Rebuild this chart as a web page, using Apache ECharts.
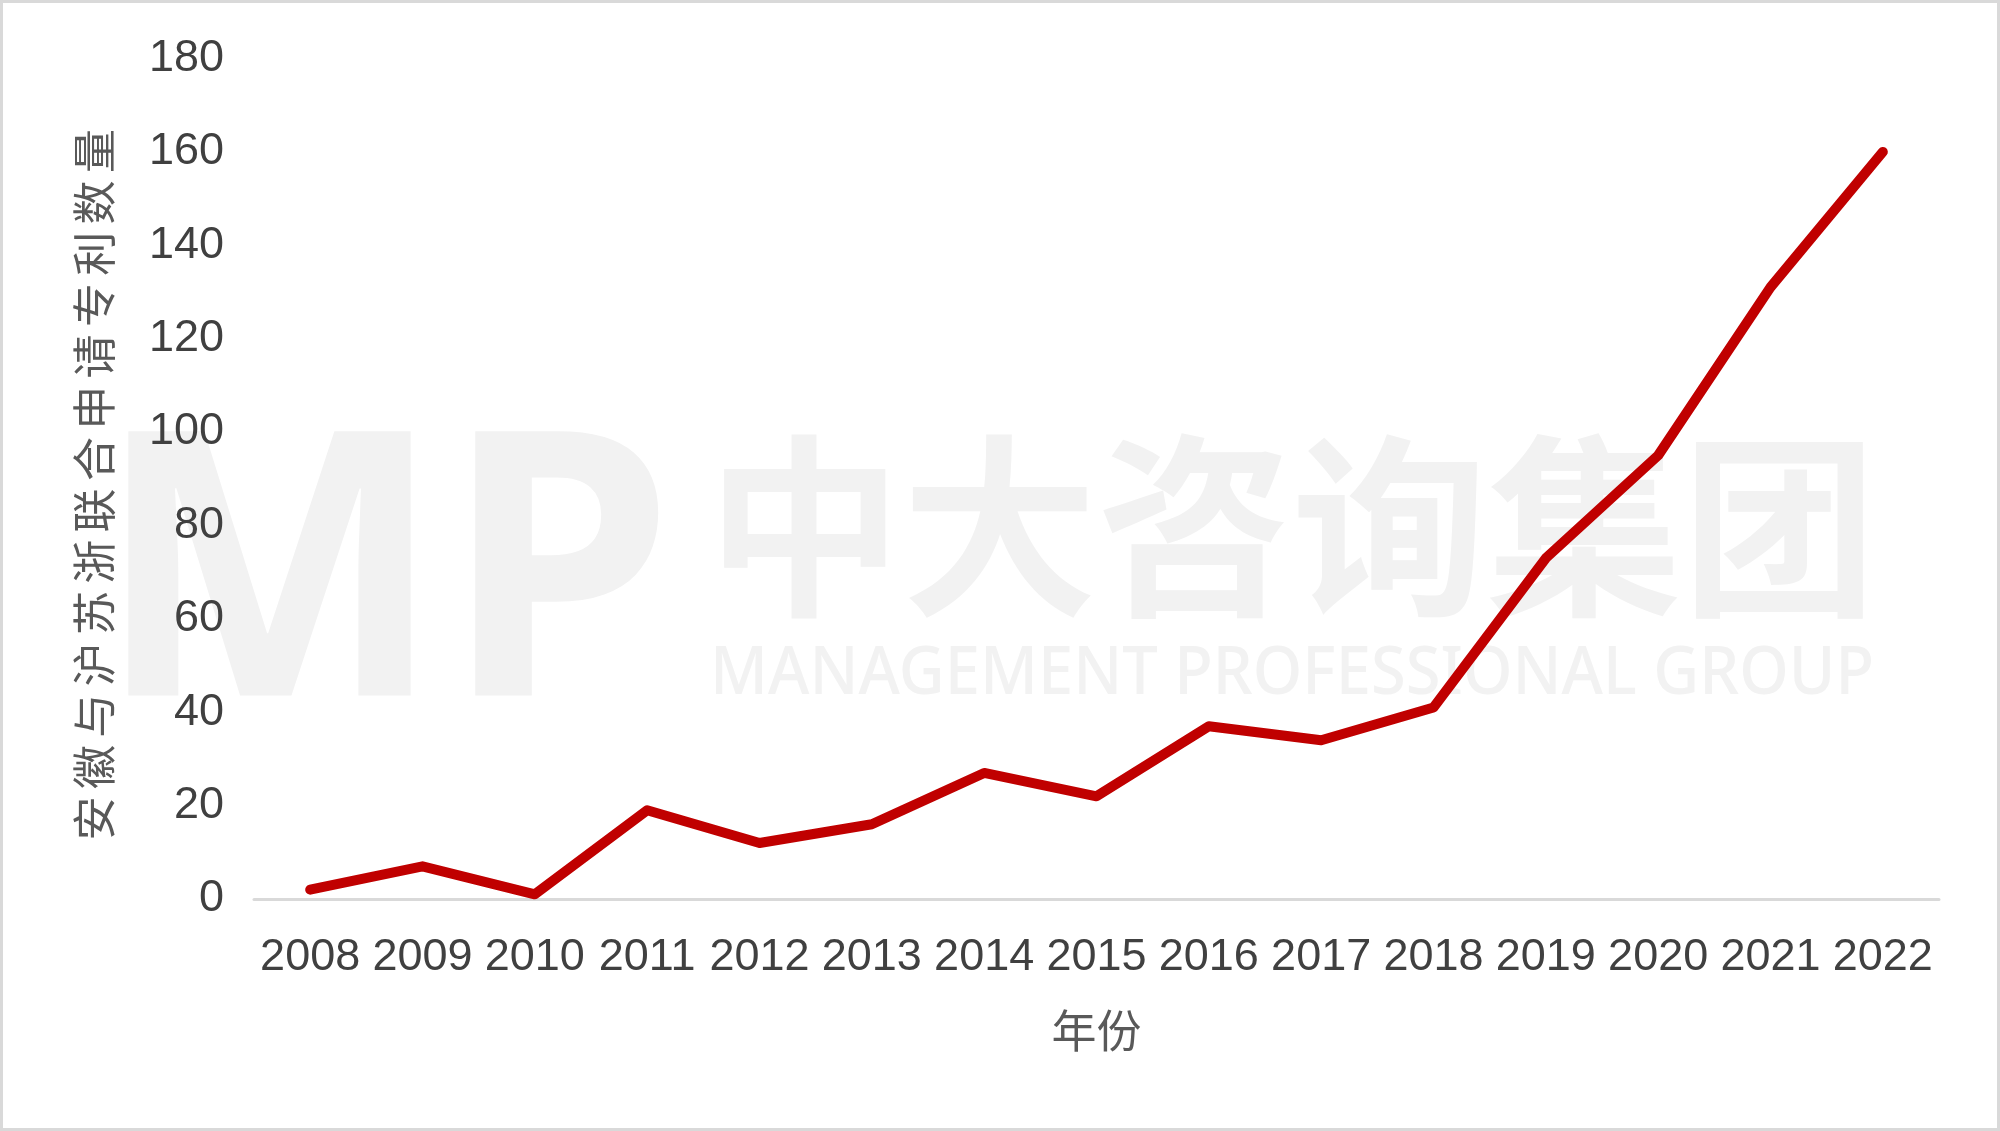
<!DOCTYPE html>
<html>
	<head>
		<title>安徽与沪苏浙联合申请专利数量</title>
		<meta charset="utf-8">
		<script type="text/javascript" src="https://cdn.jsdelivr.net/npm/echarts@6/dist/echarts.min.js"></script>
		<style>
			html, body {margin: 0;padding: 0;background: #fff;}
			#chart {width: 2000px;height: 1131px;box-sizing: border-box;border: 3px solid #d9d9d9;}
		</style>
	</head>
	<body>
		<div id="chart"></div>
	</body>
	<script type="text/javascript">
		// 年份
		var years = ['2008','2009','2010','2011','2012','2013','2014','2015','2016','2017','2018','2019','2020','2021','2022'];
		// 安徽与沪苏浙联合申请专利数量
		var patents = [2, 7, 1, 19, 12, 16, 27, 22, 37, 34, 41, 73, 95, 131, 160];
		var yTicks = {min: 0, max: 180, interval: 20};

		var numFont = "'Liberation Sans', Arial, sans-serif";
		var cjkFont = "'Noto Sans CJK SC', sans-serif";
		var wmColor = '#f2f2f2';
		var sp = '\u2006';

		var myChart = echarts.init(document.getElementById('chart'));
		myChart.setOption({
			animation: false,
			grid: {left: 251, right: 58, top: 55.5, bottom: 229, containLabel: false},
			graphic: [{
				type: 'text', z: 0, left: 92, top: 402,
				style: {text: 'MP', fill: wmColor, font: 'bold 370px "Noto Sans", sans-serif'}
			}, {
				type: 'text', z: 0, left: 704, top: 426,
				style: {text: '中大咨询集团', fill: wmColor, font: 'bold 195px ' + cjkFont}
			}, {
				type: 'text', z: 0, left: 707, top: 638, scaleX: 0.93,
				style: {text: 'MANAGEMENT PROFESSIONAL GROUP', fill: wmColor, font: '500 68px "Noto Sans", sans-serif'}
			}],
			xAxis: {
				type: 'category',
				data: years,
				boundaryGap: true,
				name: '年份',
				nameLocation: 'middle',
				nameGap: 109,
				nameTextStyle: {color: '#595959', fontSize: 45, fontFamily: cjkFont},
				axisLine: {show: true, lineStyle: {color: '#d9d9d9', width: 3}},
				axisTick: {show: false},
				axisLabel: {color: '#404040', fontSize: 45, fontFamily: numFont, margin: 36, interval: 0}
			},
			yAxis: {
				type: 'value',
				min: yTicks.min,
				max: yTicks.max,
				interval: yTicks.interval,
				name: ['安','徽','与','沪','苏','浙','联','合','申','请','专','利','数','量'].join(sp),
				nameLocation: 'middle',
				nameGap: 138,
				nameTextStyle: {color: '#595959', fontSize: 44, fontFamily: cjkFont, padding: [0, 12, 0, 0]},
				axisLine: {show: false},
				axisTick: {show: false},
				splitLine: {show: false},
				axisLabel: {color: '#404040', fontSize: 45, fontFamily: numFont, margin: 30}
			},
			series: [{
				type: 'line',
				data: patents,
				symbol: 'none',
				z: 5,
				lineStyle: {color: '#c00000', width: 10, cap: 'round', join: 'round'}
			}]
		});
	</script>
</html>
